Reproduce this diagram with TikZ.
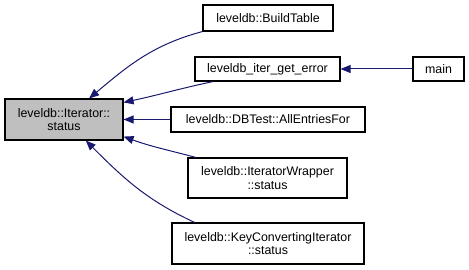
\documentclass[tikz,border=0pt]{standalone}
\usepackage{fontspec}
\setmainfont{Liberation Sans}
\usepackage{tikz}
\usetikzlibrary{arrows.meta}

\definecolor{edgeblue}{RGB}{25,25,112}
\definecolor{selgray}{RGB}{191,191,191}

\begin{document}
\begin{tikzpicture}[x=1pt, y=1pt,
    fn/.style={draw=black, line width=1.1pt, fill=white, inner sep=0pt, align=center,
        font=\fontsize{12.4}{13.3}\selectfont},
    call/.style={draw=edgeblue, line width=1pt, -{Triangle[length=10pt, width=8pt]}}]

    \useasboundingbox (0,0) rectangle (469,270);

    % --- current function ---
    \node[fn, fill=selgray, minimum width=118, minimum height=41] (st) at (64,150.5)
        {leveldb::Iterator::\\status};

    % --- callers ---
    \node[fn, minimum width=130, minimum height=26] (bt)  at (268,252)   {leveldb::BuildTable};
    \node[fn, minimum width=145, minimum height=24] (ige) at (267.5,201) {leveldb\_iter\_get\_error};
    \node[fn, minimum width=51,  minimum height=24] (mn)  at (438.5,201) {main};
    \node[fn, minimum width=194, minimum height=25] (aef) at (268,150.5) {leveldb::DBTest::AllEntriesFor};
    \node[fn, minimum width=159, minimum height=40] (iw)  at (267.5,92)  {leveldb::IteratorWrapper\\::status};
    \node[fn, minimum width=192, minimum height=41] (kci) at (268,26.5)  {leveldb::KeyConvertingIterator\\::status};

    % call edges
    \draw[call] (bt.south west) to[out=195, in=40] (st.40);
    \draw[call] (ige.193) to[out=192, in=12] (st.16);
    \draw[call] (aef.west) -- (st.east);
    \draw[call] (iw.164) to[out=165, in=-20] (st.-16);
    \draw[call] (kci.164) to[out=155, in=-45] (st.-44);
    \draw[call] (mn.west) -- (ige.east);

\end{tikzpicture}
\end{document}
